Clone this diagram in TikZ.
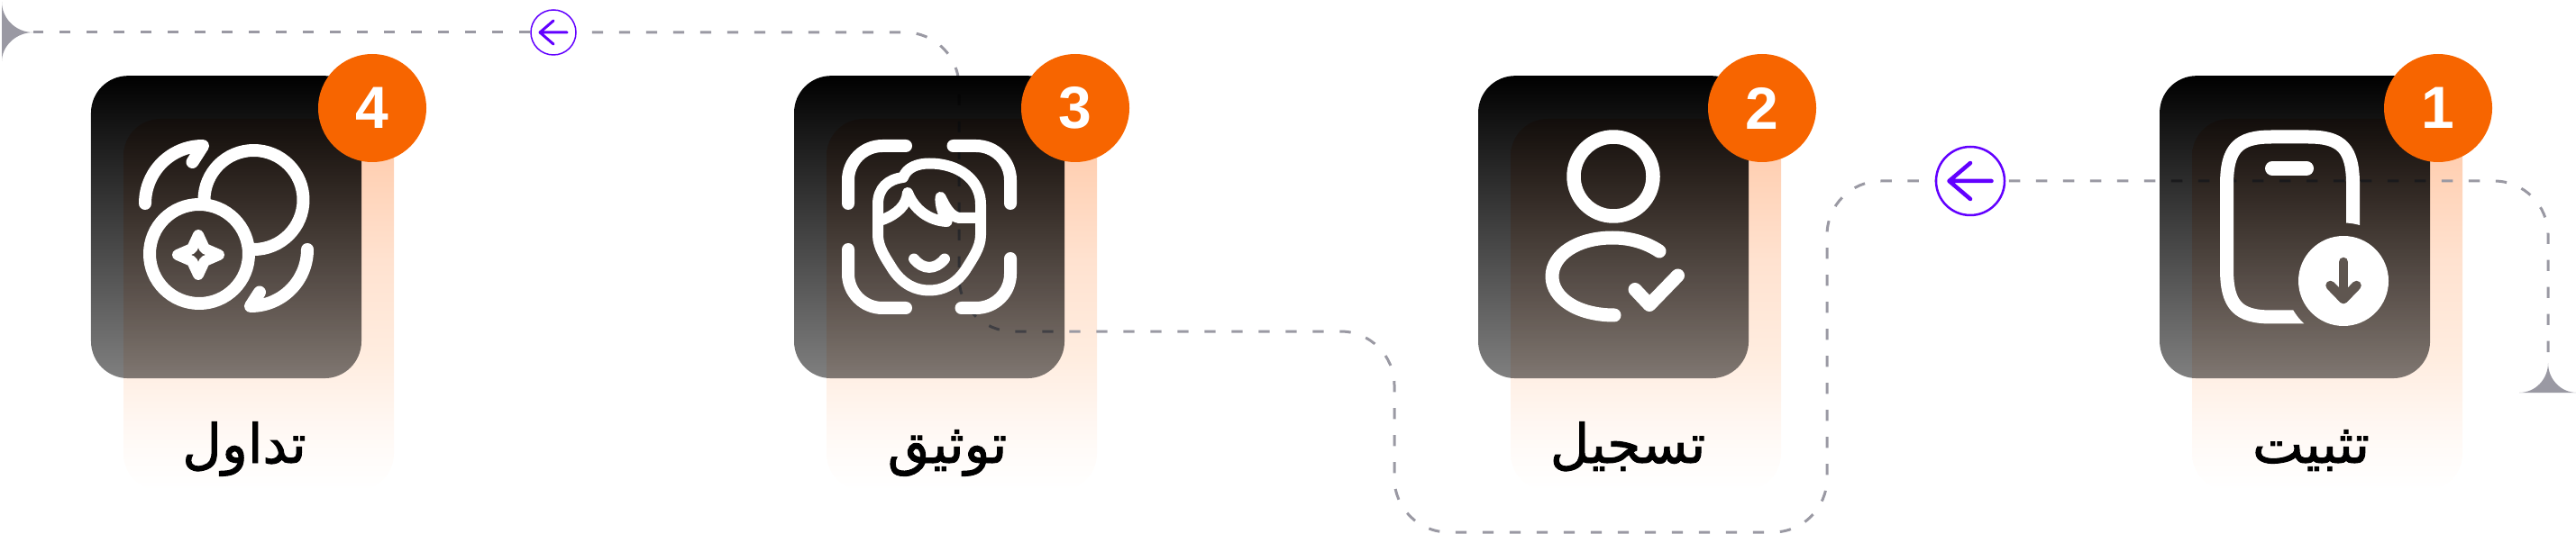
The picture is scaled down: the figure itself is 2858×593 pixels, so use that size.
\documentclass[tikz,border=0pt]{standalone}
\usepackage{fontspec}
\usepackage{xcolor}
\usetikzlibrary{calc,positioning,fadings}

\newfontfamily\arabicfont[Script=Arabic,FakeBold=1.6]{DejaVu Sans}
\newfontfamily\digitfont{Liberation Sans}
\TeXXeTstate=1

\definecolor{flowgray}{HTML}{9A99A3}
\definecolor{hopviolet}{HTML}{6200FF}
\definecolor{badgeorange}{HTML}{F76500}
\definecolor{peach}{HTML}{FFC8A6}
\definecolor{peachb}{HTML}{FFE2D0}
\definecolor{peachc}{HTML}{FFEDE0}
\definecolor{peachd}{HTML}{FFF7F2}
\definecolor{peache}{HTML}{FFFBF8}
\definecolor{holegray}{HTML}{5F5650}
\tikzfading[name=cardfade,top color=transparent!0,bottom color=transparent!50]
\pgfdeclareverticalshading{panelfade}{100bp}{color(0bp)=(white); color(25bp)=(white); color(30.4bp)=(peache); color(34.1bp)=(peachd); color(42.6bp)=(peachc); color(55.9bp)=(peachb); color(75bp)=(peach); color(100bp)=(peach)}

\begin{document}
\begin{tikzpicture}[x=1pt,y=-1pt]

  % Parameters
  \def\wcard{300pt}
  \def\hcard{336pt}
  \def\hpanel{413pt}
  \def\rcard{41pt}

  % Styles
  \tikzstyle{panel}=[shape=rectangle,rounded corners=\rcard,minimum width=\wcard,minimum height=\hpanel,inner sep=0pt,shading=panelfade]
  \tikzstyle{card}=[shape=rectangle,rounded corners=\rcard,minimum width=\wcard,minimum height=\hcard,inner sep=0pt,fill=black,path fading=cardfade]
  \tikzstyle{badge}=[circle,fill=badgeorange,minimum size=120pt,inner sep=0pt,text=white,font=\digitfont\bfseries\fontsize{66}{66}\selectfont]
  \tikzstyle{title}=[anchor=base,inner sep=0pt,font=\arabicfont\fontsize{60}{70}\selectfont]
  \tikzstyle{flow}=[draw=flowgray,line width=3pt,dash pattern=on 12.4pt off 17.6pt,rounded corners=60pt]
  \tikzstyle{hop}=[circle,draw=hopviolet,fill=white,inner sep=0pt]
  \tikzstyle{glyph}=[draw=white,line width=14pt,line cap=round,line join=round]

  % \hopmark{<node>}{<half-length>}{<head-height>}{<width>}
  \DeclareDocumentCommand \hopmark { m m m m }{%
    \draw[hopviolet,line width=#4,line cap=round,line join=round]
      ($(#1)+(#2,0)$) -- ($(#1)+(-#2,0)$)
      ($(#1)+(0,-#3)$) -- ($(#1)+(-#2,0)$) -- ($(#1)+(0,#3)$);
  }

  \useasboundingbox (0,0) rectangle (2858,593);

  % ===========================================================================

  % Draw panels
  \foreach \id/\xpos in {4/287,3/1067,2/1826,1/2582}
    \node[panel,shade] (panel-\id) at (\xpos,338.5) {};

  % Draw flow
  \coordinate (tip-a) at (2827,403);
  \coordinate (tip-b) at (37,36);
  \coordinate (turn-a) at (2027,591);
  \coordinate (turn-b) at (1547,368);
  \coordinate (turn-c) at (1064,36);
  \fill[flowgray] (2795,436) .. controls (2813,436) and (2827,421) .. (tip-a) .. controls (2827,421) and (2841,436) .. (2859,436) -- cycle;
  \fill[flowgray] (2,2) .. controls (2,20) and (17,36) .. (tip-b) .. controls (17,36) and (2,52) .. (2,68) -- cycle;
  \node[hop,line width=2.5pt,minimum size=76pt] (hop-b) at (2186,201) {};
  \node[hop,line width=1.5pt,minimum size=50pt] (hop-a) at (614,36) {};
  \draw[flow,dash phase=18pt] (tip-a) |- (hop-b.east);
  \draw[flow,dash phase=12pt] (hop-b.west) -| (turn-a) -| (turn-b) -| (turn-c) -- (hop-a.east);
  \draw[flow] (hop-a.west) -- (tip-b);
  \hopmark{hop-b}{23.5}{20}{4.5pt}
  \hopmark{hop-a}{15}{13}{3pt}

  % Draw cards, titles
  \foreach \id/\word/\xword in {4/تداول/271,3/توثيق/1051,2/تسجيل/1806,1/تثبيت/2564}{
    \node[card] (card-\id) at ($(panel-\id)+(-36,-86.5)$) {};
    \node[title] (title-\id) at (\xword,514) {\beginR\word\endR};
  }

  % Coins
  \draw[glyph,line cap=butt] (221,282) circle (55);
  \draw[glyph,line cap=butt] (226.5,222) arc (180:450:55);
  \draw[glyph,line width=12pt] (220,261) -- (227,276) -- (243,283) -- (227,290) -- (220,305) -- (213,290) -- (197,283) -- (213,276) -- cycle;
  \draw[glyph] (161,226) arc (180:270:64) -- (213.5,180);
  \draw[glyph] (341,277) arc (0:90:63) -- (288,324.5);

  % Face
  \draw[glyph,rounded corners=38pt] (941,226) -- (941,162) -- (1005,162);
  \draw[glyph,rounded corners=38pt] (1057.5,162) -- (1121,162) -- (1121,226);
  \draw[glyph,rounded corners=38pt] (941,277) -- (941,342) -- (1005,342);
  \draw[glyph,rounded corners=38pt] (1066.5,342) -- (1121,342) -- (1121,287);
  \draw[glyph,line width=12pt] (1002,197) .. controls (985,199) and (974,209) .. (974,227) -- (974,261)
    .. controls (974,275) and (983,287) .. (991,300) .. controls (1002,316) and (1016,322.5) .. (1031,322.5)
    .. controls (1046,322.5) and (1060,316) .. (1071,300) .. controls (1079,287) and (1088,275) .. (1088,261)
    -- (1088,227) .. controls (1088,200) and (1064,181.5) .. (1031,181.5) .. controls (1018,181.5) and (1006,186) .. (1002,197);
  \draw[glyph,line width=12pt] (979,244) .. controls (995,238) and (1006,228) .. (1007,214)
    .. controls (1014,232) and (1030,245) .. (1050.5,246) .. controls (1046,236) and (1043,228) .. (1043.5,219)
    .. controls (1049,230) and (1054,240) .. (1064,242) -- (1087,242);
  \draw[glyph,line width=12pt] (1014,287.5) .. controls (1024,300) and (1038,300) .. (1048,287.5);

  % User
  \draw[glyph,line width=15.5pt] (1790,196) circle (44);
  \draw[glyph,line width=15pt] (1841,279) .. controls (1826,269) and (1808,264) .. (1789,264)
    .. controls (1750,264) and (1722,283) .. (1722,307) .. controls (1722,331) and (1750,350) .. (1791,350);
  \draw[glyph,line width=15pt] (1814,321.5) -- (1830,338.5) -- (1861.5,306);

  % Phone
  \begin{scope}[even odd rule]
    \clip (2440,130) rectangle (2640,380) (2600,312) circle (64.5);
    \draw[glyph,line width=15pt,line cap=butt] (2610.5,270) -- (2610.5,205) .. controls (2610.5,165) and (2598,152) .. (2561,152)
      -- (2520,152) .. controls (2483,152) and (2470.5,165) .. (2470.5,205) -- (2470.5,299)
      .. controls (2470.5,339) and (2483,352) .. (2520,352) -- (2570,352);
  \end{scope}
  \draw[glyph,line width=16pt] (2521,187) -- (2559,187);
  \fill[white] (2600,312) circle (50);
  \draw[glyph,draw=holegray,line width=10.5pt] (2600,291) -- (2600,332);
  \draw[glyph,draw=holegray,line width=10.5pt] (2585.5,317) -- (2600,332) -- (2614.5,317);

  % Draw badges
  \foreach \id/\xpos in {4/413,3/1193,2/1955,1/2705}
    \node[badge] (badge-\id) at (\xpos,120) {\id};

\end{tikzpicture}
\end{document}
